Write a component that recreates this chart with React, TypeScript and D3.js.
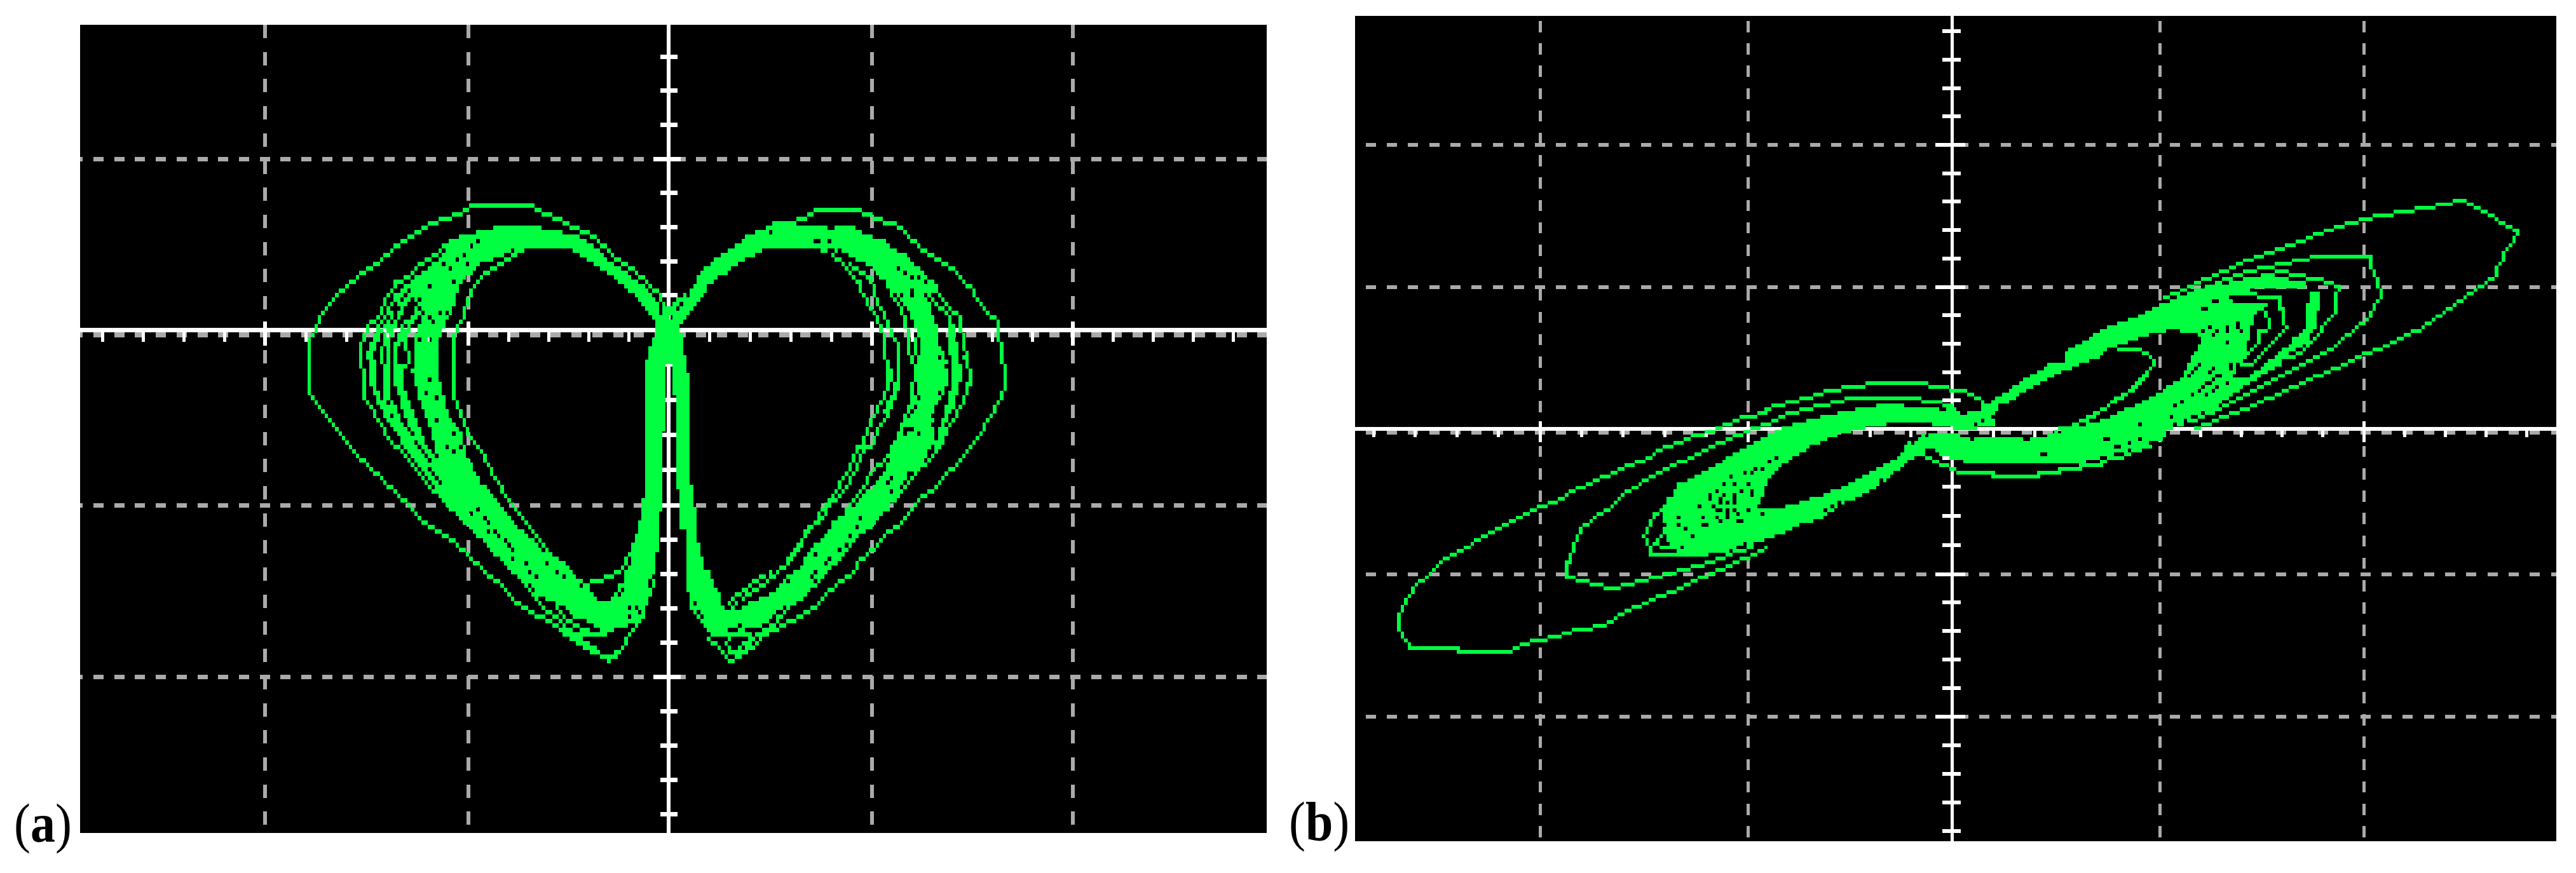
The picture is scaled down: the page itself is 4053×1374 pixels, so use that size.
import * as d3 from "d3";
import React from "react";

type P = [number, number];

// ---------- Scope readings, panel (a): left lobe (raw screen counts, region AL)
const aLeftOuter: P[] = [[1545,600],[1520,470],[1450,390],[1400,330],[1310,265],[1240,195],[1160,155],[1100,95],[1040,75],[960,50],[720,50],[660,75],[550,115],[490,160],[430,200],[400,240],[340,290],[290,330],[240,370],[200,430],[165,460],[120,530],[90,575],[70,625],[45,670],[45,930],[120,1030],[175,1110],[235,1195],[290,1265],[345,1335],[400,1395],[460,1455],[510,1510],[560,1565],[620,1605],[710,1690],[780,1760],[850,1830],[900,1890],[970,1970],[1050,2010],[1130,2070],[1210,2100],[1300,2185],[1340,2140],[1380,2070],[1445,1970],[1480,1810]];
const aLeftTip: P[] = [[1100,2045],[1160,2095],[1240,2140],[1300,2170],[1330,2160]];
const aLeftInner: P[] = [[960,235],[900,265],[830,305],[800,345],[760,370],[735,430],[710,490],[695,540],[680,590],[660,620],[645,680],[645,950],[660,1000],[690,1060],[710,1110],[750,1170],[790,1260],[820,1330],[870,1410],[910,1480],[945,1530],[990,1600],[1040,1670],[1090,1720],[1140,1770],[1190,1830],[1340,1775],[1400,1670],[1440,1500]];
const aLeft1: P[] = [[680,200],[630,215],[590,250],[555,285],[510,325],[480,350],[430,390],[405,410],[385,440],[362,480],[350,520],[325,565],[300,590],[290,620],[275,650],[262,700],[262,790],[278,830],[278,950],[300,1000],[330,1050],[350,1085],[380,1130],[430,1210],[490,1285],[540,1350],[600,1430],[660,1490],[720,1560],[790,1640],[860,1720],[940,1800],[970,1860],[1030,1940],[1080,1990],[1125,2050],[1180,2070],[1240,2075]];
const aLeft2: P[] = [[740,200],[680,225],[610,265],[590,300],[545,330],[515,350],[470,400],[430,440],[405,470],[395,510],[360,560],[335,620],[320,660],[300,700],[285,745],[305,790],[305,860],[320,930],[340,1000],[365,1040],[400,1100],[440,1170],[500,1260],[550,1330],[620,1430],[690,1510],[770,1600],[850,1690]];
const aLeft2b: P[] = [[600,280],[560,330],[530,360],[490,400],[450,445],[420,490],[410,530],[375,590],[350,630],[335,660],[315,700],[298,745],[320,800],[320,880],[335,950],[355,1000],[380,1040],[415,1100],[455,1170],[515,1260],[565,1330],[635,1430]];
const aLeft3: P[] = [[730,235],[660,265],[625,310],[580,345],[530,390],[490,430],[445,490],[420,540],[405,590],[380,620],[360,660],[350,740],[355,860],[365,960],[385,1000],[410,1050],[445,1110],[480,1170],[510,1220],[570,1300],[640,1400]];
const aLeft3b: P[] = [[560,350],[510,400],[470,450],[440,510],[420,560],[395,640],[375,690],[370,740],[370,860],[380,950],[400,1000],[425,1050],[460,1110],[495,1170],[525,1220],[585,1300],[655,1400]];
const aLeft4: P[] = [[700,300],[640,340],[600,410],[550,440],[500,500],[480,570],[435,610],[420,660],[400,720],[400,870],[430,960],[440,1030],[475,1100],[510,1160],[540,1210],[600,1300],[670,1390]];
const aLeft4b: P[] = [[630,360],[570,430],[520,490],[495,560],[455,620],[440,640],[410,720],[412,870],[445,960],[455,1030],[490,1100],[525,1160],[555,1210],[615,1300],[680,1390]];
const aLeft5: P[] = [[620,400],[590,440],[530,470],[515,520],[490,560],[465,610],[440,650],[450,700],[465,780],[435,800],[435,910],[460,960],[480,1030],[510,1090],[525,1150],[565,1220],[620,1290],[680,1370]];
const aLeftVee: P[] = [[1060,1900],[1100,1960],[1150,2020],[1240,2075],[1280,2060],[1340,2000],[1370,1960]];
const aLeftCore: P[] = [[1520,590],[1495,490],[1450,425],[1395,385],[1355,340],[1295,300],[1265,260],[1210,215],[1180,190],[1120,170],[1030,150],[950,130],[860,130],[800,150],[730,170],[660,190],[620,250],[590,300],[560,350],[500,390],[490,420],[470,480],[530,520],[510,590],[490,650],[475,700],[485,760],[475,820],[490,900],[500,950],[520,1000],[545,1080],[560,1150],[600,1290],[590,1410],[660,1490],[700,1540],[760,1600],[800,1660],[850,1710],[880,1760],[930,1810],[980,1880],[1060,1910],[1120,1940],[1150,1990],[1210,2005],[1265,2045],[1320,2045],[1355,2025],[1410,2020],[1440,1990],[1455,1920],[1465,1810],[1480,1800],[1495,1700],[1510,1555],[1525,1250],[1525,1110],[1540,1020],[1540,786],[1500,640],[1480,670],[1465,710],[1455,770],[1455,1400],[1440,1420],[1425,1540],[1410,1600],[1400,1670],[1385,1740],[1365,1760],[1365,1810],[1340,1830],[1320,1890],[1280,1910],[1250,1890],[1210,1830],[1190,1820],[1150,1780],[1120,1730],[1060,1700],[1020,1670],[980,1620],[920,1560],[890,1520],[860,1470],[830,1430],[800,1385],[760,1345],[730,1280],[700,1210],[690,1160],[680,1110],[640,1060],[615,990],[600,920],[585,850],[585,680],[600,620],[630,570],[650,510],[660,470],[675,425],[690,390],[745,345],[760,315],[820,290],[890,260],[960,235],[1120,235],[1180,275],[1240,320],[1295,360],[1340,400],[1380,440],[1425,490],[1470,550],[1496,590]];
const aCenter: P[] = [[1505,560],[1590,560],[1597,620],[1610,745],[1570,786],[1540,786],[1455,786],[1475,700],[1496,620]];
const aLeftHoles: P[] = [[745,220],[715,240],[895,243],[858,265],[690,265],[660,285],[710,305],[610,325],[640,345],[535,325],[505,350],[690,390],[650,410],[555,430],[510,475],[410,520],[465,520],[510,520],[565,600],[595,540],[625,540],[550,560],[550,860],[540,935],[580,945],[580,1050],[655,1115],[505,670],[545,670],[650,1120],[620,1180],[680,1180],[650,1200],[725,1490],[755,1475],[780,1520],[795,1540],[795,1585],[825,1580],[840,1605],[870,1625],[885,1645],[895,1670],[895,1715],[955,1735],[1040,1735],[970,1775],[1085,1775],[1000,1800],[1115,1800],[1185,1840],[1260,1900],[970,1840],[985,1860],[1390,1945],[1415,1945],[1430,1970],[1380,1990],[1360,1855],[1345,1880],[1220,1860],[1240,1880],[1265,1905]];

// ---------- Panel (a): right lobe (region AR)
const aRightOuter: P[] = [[470,130],[530,115],[590,95],[650,72],[820,72],[900,95],[960,115],[1000,150],[1035,180],[1060,205],[1080,225],[1105,245],[1135,265],[1165,285],[1190,320],[1230,350],[1265,390],[1300,430],[1330,480],[1370,540],[1405,590],[1410,660],[1420,740],[1432,840],[1445,900],[1430,930],[1415,960],[1400,990],[1375,1030],[1355,1070],[1345,1095],[1320,1130],[1300,1170],[1270,1220],[1240,1265],[1200,1310],[1160,1350],[1130,1400],[1095,1415],[1065,1460],[1030,1500],[1000,1540],[975,1565],[940,1600],[900,1640],[860,1690],[820,1735],[800,1760],[740,1820],[690,1880],[650,1930],[600,1970],[545,2010],[480,2050],[430,2070],[400,2100],[350,2150],[320,2180],[285,2185],[260,2160],[230,2115],[200,2080]];
const aRightInner1: P[] = [[720,275],[750,300],[770,330],[790,350],[810,370],[830,400],[840,440],[850,470],[865,500],[880,530],[900,560],[910,600],[940,660],[942,910],[925,960],[905,1000],[895,1040],[880,1060],[860,1100],[850,1150],[825,1190],[810,1230],[790,1280],[765,1330],[730,1390],[710,1440],[680,1480],[650,1530],[610,1580],[585,1630],[550,1690],[510,1750],[470,1760],[420,1800],[370,1840],[310,1880],[280,1910],[255,1950]];
const aRightInner2: P[] = [[790,310],[870,380],[895,460],[915,520],[940,570],[960,650],[985,700],[985,900],[965,970],[945,1010],[930,1050],[910,1090],[885,1130],[870,1190],[850,1190],[830,1240],[800,1300],[770,1360],[745,1410],[700,1460],[670,1520],[635,1560],[600,1610],[575,1660],[530,1730],[490,1770],[450,1810],[390,1860],[340,1900],[300,1930]];
const aRightInner2b: P[] = [[965,830],[972,930],[955,975],[940,1020]];
const aRightInner3: P[] = [[910,360],[945,410],[965,470],[990,510],[1015,560],[1025,600],[1040,660],[1042,740],[1060,830],[1055,900],[1045,960],[1035,990],[1015,1040],[1000,1080],[985,1130],[960,1180],[945,1220],[880,1300],[850,1360],[815,1410],[790,1460],[760,1510],[720,1540]];
const aRightInner4: P[] = [[1070,680],[1072,830],[1078,880],[1060,960],[1040,1000],[1025,1060],[1000,1110],[980,1180]];
const aRightOuter2: P[] = [[1100,370],[1130,410],[1150,450],[1175,480],[1215,520],[1245,570],[1258,610],[1270,680],[1285,780],[1295,850],[1285,910],[1270,950],[1250,990],[1235,1020],[1220,1060],[1200,1100],[1180,1150],[1150,1200],[1120,1240],[1090,1270],[1050,1320],[1020,1370],[985,1410],[960,1440],[910,1500],[880,1550],[830,1580],[790,1640],[745,1700],[715,1730],[680,1790],[600,1880],[540,1920],[520,1970],[490,1990],[470,2030],[430,2050],[390,2090],[360,2120],[330,2160]];
const aRightOuter3: P[] = [[1272,760],[1300,830],[1300,870],[1285,920]];
const aRightMid: P[] = [[1060,420],[1110,470],[1150,510],[1190,540],[1215,600],[1225,680],[1225,740],[1250,830],[1240,900],[1215,970],[1190,1020],[1170,1100],[1150,1190]];
const aRightBand: P[] = [[1195,590],[1225,600],[1240,700],[1250,830],[1250,900],[1235,950],[1220,1000],[1195,1060],[1180,1130],[1165,1190],[1150,1190],[1165,1090],[1185,1010],[1205,960],[1210,900],[1210,760],[1195,680]];
const aRightTip: P[] = [[315,2025],[350,2050],[380,2080],[345,2115],[320,2160],[285,2150],[270,2110],[290,2070],[370,2070]];
const aRightCore: P[] = [[0,560],[55,490],[112,450],[155,400],[155,360],[200,320],[240,280],[300,240],[330,210],[355,190],[385,170],[430,150],[470,130],[775,130],[820,150],[850,170],[890,190],[935,210],[960,240],[1005,260],[1035,280],[1050,300],[1060,320],[1090,340],[1105,400],[1150,430],[1130,470],[1130,530],[1150,600],[1165,680],[1195,780],[1195,900],[1180,930],[1150,1000],[1150,1190],[1165,1110],[1130,1180],[1105,1240],[1080,1280],[1040,1300],[1000,1380],[975,1430],[950,1480],[905,1520],[890,1550],[845,1580],[820,1620],[780,1660],[745,1710],[700,1750],[680,1790],[645,1810],[625,1840],[600,1880],[575,1900],[530,1920],[500,1950],[460,1980],[440,2010],[420,2030],[345,2025],[310,2025],[280,2060],[270,2080],[215,2085],[200,2060],[185,2030],[155,2000],[140,1960],[125,1950],[125,1880],[112,1870],[112,1750],[100,1740],[100,1580],[82,1570],[82,1400],[70,1390],[70,1050],[55,940],[55,786],[98,745],[112,830],[125,940],[125,1360],[140,1370],[140,1450],[155,1510],[155,1630],[170,1640],[170,1700],[185,1710],[185,1750],[200,1760],[212,1800],[228,1840],[243,1855],[255,1910],[270,1945],[320,1950],[400,1900],[470,1860],[510,1810],[540,1780],[580,1750],[600,1710],[640,1650],[680,1600],[720,1540],[750,1510],[800,1460],[850,1400],[890,1360],[920,1320],[950,1250],[950,1200],[1000,1140],[1040,1110],[1030,1050],[1065,1000],[1080,950],[1065,870],[1090,800],[1090,680],[1050,590],[1035,540],[1010,490],[980,450],[945,400],[905,350],[840,310],[800,290],[760,260],[720,250],[675,255],[620,235],[470,235],[415,255],[385,275],[345,295],[315,320],[285,340],[270,360],[240,380],[225,400],[200,420],[185,450],[155,490],[140,510],[125,530],[112,550],[100,575],[82,595]];
const aRightHoles: P[] = [[465,178],[710,157],[725,157],[640,200],[655,200],[703,220],[745,245],[985,328],[1015,350],[1045,370],[1085,370],[1055,435],[1000,455],[1045,455],[1100,455],[1015,520],[1130,520],[1115,480],[1170,700],[1170,750],[1190,795],[1170,925],[1185,960],[1145,985],[1130,1030],[1130,1070],[1045,1095],[1085,1115],[135,410],[118,455],[90,498],[75,520],[45,560],[830,1520],[825,1565],[795,1605],[780,1645],[740,1670],[650,1690],[710,1710],[695,1735],[650,1775],[635,1795],[535,1775],[510,1800],[535,1815],[480,1775],[450,1795],[450,1840],[420,1860],[480,1860],[390,1880],[450,1880],[365,1905],[335,1925],[265,1945],[260,1925],[148,1925],[160,1965],[175,1990],[325,2030],[290,2050],[370,2050],[1040,1310],[970,1325],[955,1350],[1015,1350],[965,1390]];

// ---------- Panel (b): lower-left lobe (region BL)
const bLeftOuter: P[] = [[1568,232],[1480,262],[1430,280],[1400,297],[1330,332],[1280,350],[1200,385],[1150,403],[1100,437],[1040,472],[990,490],[940,525],[890,545],[840,578],[790,595],[740,630],[680,668],[630,686],[570,720],[510,755],[450,790],[400,825],[350,860],[310,895],[270,915],[230,950],[180,1000],[130,1055],[100,1100],[70,1155],[55,1195],[55,1255],[85,1310],[100,1355],[295,1355],[300,1372],[495,1372],[560,1337],[620,1320],[700,1300],[790,1270],[900,1240],[960,1200],[1030,1160],[1090,1125],[1180,1090],[1240,1050],[1310,1020],[1380,985],[1430,950],[1480,930],[1568,880]];
const bLeftSecond: P[] = [[1568,300],[1510,315],[1450,350],[1380,385],[1310,420],[1265,455],[1210,475],[1150,510],[1090,545],[1040,578],[990,615],[960,650],[920,690],[880,720],[840,755],[800,790],[770,850],[765,940],[750,945],[750,1020],[810,1037],[870,1055],[930,1072],[990,1055],[1050,1037],[1100,1020],[1170,1000],[1220,985],[1280,968],[1330,950],[1370,932],[1410,915],[1450,895],[1500,880]];
const bLeftThird: P[] = [[1430,455],[1360,490],[1310,525],[1270,560],[1210,580],[1185,620],[1160,650],[1145,690],[1110,720],[1085,755],[1068,790],[1055,825],[1070,860],[1085,900],[1090,915],[1280,915],[1370,895],[1440,880]];
const bLeftFourth: P[] = [[1220,620],[1160,680],[1145,730],[1140,780],[1128,830],[1110,855],[1150,880],[1210,880]];
const bLeftCore: P[] = [[1575,345],[1540,365],[1480,400],[1425,435],[1370,475],[1325,510],[1295,525],[1265,545],[1210,580],[1190,630],[1150,680],[1150,850],[1180,880],[1210,895],[1280,905],[1370,890],[1440,870],[1510,860],[1575,830],[1575,680],[1530,690],[1575,555]];
const bLeftHoles: P[] = [[1210,730],[1300,730],[1300,770],[1315,770],[1140,770],[1200,770],[1290,680],[1340,630],[1360,610],[1390,580],[1415,545],[1475,525],[1500,525],[1520,510],[1545,510],[1440,580],[1490,580],[1385,630],[1440,630],[1465,615],[1330,650],[1345,685],[1372,650],[1372,670],[1372,690],[1400,670],[1400,690],[1400,710],[1400,730],[1430,650],[1430,670],[1430,690],[1360,705],[1360,725],[1445,710],[1490,690],[1550,720],[1380,755],[1445,755],[1460,755],[1230,790],[1265,828],[1475,860],[1165,860],[1220,878],[1450,878],[1505,610],[1505,635]];

// ---------- Panel (b): centre crossing (region BC)
const bcOuterTop: P[] = [[0,228],[45,210],[90,190],[150,172],[205,155],[260,138],[350,120],[450,105],[625,105],[710,120],[800,138],[840,155],[870,173],[885,200]];
const bcSecondTop: P[] = [[0,295],[20,280],[55,262],[100,245],[150,228],[215,210],[300,190],[340,173],[580,173],[680,190],[760,210]];
const bcLowerOrbit: P[] = [[655,450],[695,470],[735,490],[770,510],[790,525],[925,525],[930,545],[1115,545],[1120,525],[1200,525],[1205,510],[1290,510],[1295,490],[1375,490],[1380,470],[1410,455],[1450,450],[1490,435],[1510,420],[1575,402]];
const bcInnerRight: P[] = [[1575,30],[1555,50],[1540,80],[1525,105],[1490,135],[1470,155],[1445,172],[1400,210],[1355,245],[1290,280],[1255,300]];
const bcUpperLeftBand: P[] = [[0,345],[60,308],[118,290],[175,272],[233,255],[305,238],[375,220],[465,200],[565,200],[565,218],[770,218],[800,238],[925,238],[925,288],[870,305],[870,320],[810,325],[755,305],[680,305],[680,288],[495,288],[495,305],[408,305],[408,325],[350,325],[345,340],[290,345],[250,360],[220,378],[190,395],[160,410],[145,430],[120,445],[90,465],[60,485],[45,500],[30,515],[15,540],[0,555]];
const bcLowerLeftBand: P[] = [[0,680],[15,695],[75,680],[145,660],[190,640],[235,625],[280,605],[335,570],[390,540],[420,520],[480,485],[535,450],[550,430],[580,380],[610,360],[650,410],[640,445],[610,450],[580,465],[550,500],[525,520],[505,550],[465,570],[465,585],[435,605],[410,620],[375,640],[320,660],[280,695],[248,715],[217,745],[130,770],[60,810],[0,835]];
const bcLowerRightBand: P[] = [[610,370],[640,340],[770,340],[855,360],[1040,360],[1090,360],[1160,345],[1190,310],[1250,305],[1320,290],[1390,270],[1420,255],[1480,220],[1540,185],[1575,170],[1575,395],[1510,410],[1450,425],[1390,445],[1335,460],[1260,483],[855,483],[785,465],[740,445],[695,430],[650,410]];
const bcRisingBand: P[] = [[885,205],[930,183],[945,165],[975,148],[1000,130],[1015,113],[1045,97],[1060,80],[1090,62],[1118,43],[1135,25],[1160,7],[1190,0],[1320,0],[1290,7],[1250,25],[1220,43],[1190,60],[1160,80],[1135,95],[1105,113],[1045,148],[1015,180],[955,205],[945,220],[930,300],[870,300]];
const bcHoles: P[] = [[800,245],[815,245],[715,228],[730,228],[890,278],[935,262],[860,296],[1530,296],[1285,296],[1300,296],[1310,296],[1200,332],[1145,350],[1055,368],[1075,368],[1135,438],[1150,438],[1398,368],[1485,385],[1440,403],[1530,368],[850,368],[650,350],[620,368],[605,385],[665,425],[680,425],[15,473],[35,455],[270,686],[240,704],[298,668],[470,560]];

// ---------- Panel (b): upper-right lobe (region BU)
const buOuter: P[] = [[340,505],[370,490],[395,470],[440,440],[480,420],[510,400],[540,385],[590,350],[625,330],[660,315],[695,295],[730,280],[770,260],[800,243],[830,225],[865,207],[900,190],[940,172],[975,155],[1015,137],[1075,120],[1150,102],[1220,84],[1295,66],[1355,48],[1390,65],[1415,84],[1440,100],[1460,120],[1475,137],[1500,155],[1525,172],[1542,190],[1530,215],[1520,250],[1505,290],[1495,325],[1480,360],[1470,395],[1455,420],[1435,437],[1405,475],[1385,490],[1365,507],[1330,543],[1295,578],[1260,615],[1225,648],[1200,665],[1170,685],[1150,702],[1120,720],[1090,738],[1065,755],[1035,773],[1000,790],[980,806],[950,825],[920,843],[895,860],[865,878],[835,897],[810,915],[780,930],[750,948],[725,966],[695,983],[665,1000],[640,1020],[610,1037],[575,1055],[540,1072],[510,1090],[480,1107],[440,1125]];
const buSecond: P[] = [[520,440],[550,420],[580,400],[620,382],[670,365],[740,350],[805,332],[870,315],[1045,315],[1050,340],[1060,405],[1070,420],[1070,460],[1080,490],[1070,525],[1060,545],[1040,575],[1035,605],[1010,630],[995,650],[980,665],[960,685],[950,700],[940,720],[925,740],[905,755],[880,775],[860,790],[835,808],[810,825],[785,842],[760,860],[740,878],[715,897],[690,915],[665,930],[640,948],[615,966],[590,985],[570,1000],[545,1020],[520,1037],[490,1055],[460,1072],[430,1090]];
const buThird: P[] = [[680,400],[730,385],[790,400],[850,420],[910,437],[940,455],[925,490],[925,570],[915,600],[895,630],[880,650],[865,680],[850,705],[835,720],[820,755],[800,775],[765,790],[745,790]];
const buFourth: P[] = [[660,505],[735,505],[735,550],[745,560],[745,620],[755,640],[745,665],[730,685],[705,720],[685,755],[670,775],[650,805],[630,825],[600,830]];
const buFifth: P[] = [[685,570],[685,590],[695,610],[695,650],[670,670],[660,660],[660,720],[640,745],[610,770]];
const buInner: P[] = [[170,755],[255,755],[285,780],[300,830],[280,850],[262,890],[245,920],[215,945],[175,985],[145,1020],[110,1055],[70,1085],[25,1105]];
const buCore: P[] = [[0,770],[15,750],[40,730],[65,712],[100,675],[125,658],[150,640],[190,622],[220,605],[245,590],[280,570],[305,555],[330,535],[355,520],[390,500],[415,485],[450,465],[480,450],[520,445],[575,430],[620,412],[680,395],[750,412],[820,430],[820,465],[620,465],[655,490],[550,498],[580,530],[690,540],[625,610],[640,610],[632,680],[620,740],[632,770],[605,800],[600,830],[575,860],[570,880],[640,900],[580,960],[530,1000],[510,1040],[460,1070],[420,1095],[390,1110],[345,1140],[340,1170],[240,1200],[170,1230],[100,1260],[0,1260],[0,1120],[80,1100],[135,1085],[185,1050],[230,1020],[260,1000],[305,965],[330,945],[365,910],[400,880],[415,840],[425,810],[440,770],[450,740],[465,700],[450,680],[415,670],[365,655],[290,680],[245,700],[210,715],[170,735],[110,790],[50,820],[0,850]];
const buThickLimb: P[] = [[835,470],[870,470],[870,550],[860,570],[860,640],[850,655],[835,690],[815,730],[790,745],[760,775],[745,800],[730,830],[700,850],[665,880],[640,905],[590,925],[555,955],[520,985],[530,950],[560,930],[600,900],[620,880],[645,855],[680,830],[695,800],[720,780],[750,745],[770,715],[785,690],[800,680],[810,660],[825,640],[825,570]];
const buHoles: P[] = [[505,525],[520,525],[465,560],[480,560],[270,578],[238,596],[492,648],[468,665],[517,665],[505,683],[552,650],[552,670],[552,710],[585,635],[585,650],[600,665],[455,825],[565,825],[590,825],[565,843],[590,843],[505,843],[445,843],[490,860],[435,860],[420,878],[515,878],[530,878],[505,895],[550,915],[480,913],[495,913],[465,930],[520,930],[505,948],[455,948],[430,966],[480,966],[395,1002],[370,1020],[465,1055],[360,1072],[405,1090],[430,1072],[445,1072],[370,1107],[250,1107],[140,1178],[250,1178],[215,1195],[175,1213],[150,755],[165,755],[625,1000]];

// ---------- Graticule (division values)
const gridDivs = [-2, -1, 1, 2];
const tickDivs = d3.range(-15, 16).map((k) => k / 5);
const labels = ["a", "b"];

const GREEN = "#00ff40";
const GREY = "#aaaaaa";
const WHITE = "#ffffff";

type Region = { x: d3.ScaleLinear<number, number>; y: d3.ScaleLinear<number, number>; lines: P[][]; polys: P[][]; holes: P[] };

const lin = (d: [number, number], r: [number, number]) => d3.scaleLinear().domain(d).range(r);

const yA = lin([0, 1200], [310, 710]);
const yB = lin([0, 1410], [570, 1040]);

const panelA = {
  left: 126, top: 39, right: 1993, bottom: 1311, cw: 5.42, ch: 7.03,
  divX: d3.scaleLinear().domain([-2, -1, 0, 1, 2]).range([417, 737, 1052, 1372, 1688]),
  divY: d3.scaleLinear().domain([2, 1, 0, -1, -2]).range([-18, 250, 518.5, 795, 1065.5]),
  axisW: 6, axisH: 7, rowH: 8, tickMinor: 15, tickTop: 10, tickBottom: 21,
  minorHalf: [13, 14], majorHalf: [24, 19],
  hDash: [16, 16.7], hPhase: 147, vDash: [21, 21.7], vPhase: 39,
  regions: [
    { x: lin([0, 1568], [470, 1060]), y: yA, lines: [aLeftOuter, aLeftTip, aLeftInner, aLeft1, aLeft2, aLeft2b, aLeft3, aLeft3b, aLeft4, aLeft4b, aLeft5, aLeftVee], polys: [aLeftCore, aCenter], holes: aLeftHoles },
    { x: lin([0, 1568], [1040, 1630]), y: yA, lines: [aRightOuter, aRightInner1, aRightInner2, aRightInner2b, aRightInner3, aRightInner4, aRightOuter2, aRightOuter3, aRightMid, aRightTip], polys: [aRightCore, aRightBand], holes: aRightHoles },
  ] as Region[],
};

const panelB = {
  left: 2132, top: 25, right: 4022, bottom: 1324, cw: 5.5, ch: 5.87,
  divX: d3.scaleLinear().domain([-2, -1, 0, 1, 2]).range([2423, 2750, 3071, 3398, 3719]),
  divY: d3.scaleLinear().domain([2, 1, 0, -1, -2]).range([228, 451.5, 675, 903.5, 1128]),
  axisW: 5, axisH: 6, rowH: 6, tickMinor: 12, tickTop: 9, tickBottom: 18,
  minorHalf: [15, 14], majorHalf: [26, 21],
  hDash: [16, 17.3], hPhase: 2182, vDash: [17.5, 17.7], vPhase: 33,
  regions: [
    { x: lin([0, 1568], [2180, 2780]), y: yB, lines: [bLeftOuter, bLeftSecond, bLeftThird, bLeftFourth], polys: [bLeftCore], holes: bLeftHoles },
    { x: lin([0, 1568], [2780, 3380]), y: yB, lines: [bcOuterTop, bcSecondTop, bcLowerOrbit, bcInnerRight], polys: [bcUpperLeftBand, bcLowerLeftBand, bcLowerRightBand, bcRisingBand], holes: bcHoles },
    { x: lin([0, 1568], [3250, 3970]), y: lin([0, 1260], [300, 720]), lines: [buOuter, buSecond, buThird, buFourth, buFifth, buInner], polys: [buCore, buThickLimb], holes: buHoles },
  ] as Region[],
};

type Panel = typeof panelA;

// Everything is drawn onto the scope's own coarse dot raster.
function traceCells(p: Panel): string {
  const cells = new Set<string>();
  const cx = (v: number) => Math.floor((v - p.left) / p.cw);
  const cy = (v: number) => Math.floor((v - p.top) / p.ch);
  const cols = Math.ceil((p.right - p.left) / p.cw);
  const rows = Math.ceil((p.bottom - p.top) / p.ch);
  const holes: string[] = [];
  for (const r of p.regions) {
    for (const line of r.lines) {
      for (let i = 1; i < line.length; i++) {
        const x0 = cx(r.x(line[i - 1][0])), y0 = cy(r.y(line[i - 1][1]));
        const x1 = cx(r.x(line[i][0])), y1 = cy(r.y(line[i][1]));
        const n = Math.max(Math.abs(x1 - x0), Math.abs(y1 - y0), 1);
        for (let s = 0; s <= n; s++) {
          cells.add(`${Math.round(x0 + ((x1 - x0) * s) / n)},${Math.round(y0 + ((y1 - y0) * s) / n)}`);
        }
      }
    }
    for (const poly of r.polys) {
      const pts = poly.map(([a, b]) => [r.x(a), r.y(b)] as [number, number]);
      const xs = pts.map((q) => q[0]);
      const ys = pts.map((q) => q[1]);
      for (let i = cx(d3.min(xs)!); i <= cx(d3.max(xs)!); i++) {
        for (let j = cy(d3.min(ys)!); j <= cy(d3.max(ys)!); j++) {
          const c: [number, number] = [p.left + (i + 0.5) * p.cw, p.top + (j + 0.5) * p.ch];
          if (d3.polygonContains(pts, c)) cells.add(`${i},${j}`);
        }
      }
    }
    for (const [a, b] of r.holes) holes.push(`${cx(r.x(a))},${cy(r.y(b))}`);
  }
  holes.forEach((h) => cells.delete(h));
  const parts: string[] = [];
  cells.forEach((k) => {
    const [i, j] = k.split(",").map(Number);
    if (i < 0 || j < 0 || i >= cols || j >= rows) return;
    const x0 = Math.round(p.left + i * p.cw), x1 = Math.round(p.left + (i + 1) * p.cw);
    const y0 = Math.round(p.top + j * p.ch), y1 = Math.round(p.top + (j + 1) * p.ch);
    parts.push(`M${x0} ${y0}H${x1}V${y1}H${x0}Z`);
  });
  return parts.join("");
}

function Scope({ p }: { p: Panel }) {
  const ax = Math.round(p.divX(0));
  const ay = Math.round(p.divY(0));
  const dash = (d: number[]) => d.join(" ");
  const hOffset = (d: number[]) => (d[0] + d[1]) - ((p.hPhase - p.left) % (d[0] + d[1]));
  const vOffset = (d: number[]) => (d[0] + d[1]) - ((p.vPhase - p.top) % (d[0] + d[1]));
  const inX = (v: number) => v >= p.left && v <= p.right;
  const inY = (v: number) => v >= p.top && v <= p.bottom;
  return (
    <g shapeRendering="crispEdges">
      <rect x={p.left} y={p.top} width={p.right - p.left} height={p.bottom - p.top} fill="#000" />
      {gridDivs.map((d) => (
        <line key={`v${d}`} x1={p.divX(d)} x2={p.divX(d)} y1={p.top} y2={p.bottom} stroke={GREY} strokeWidth={p.axisW}
          strokeDasharray={dash(p.vDash)} strokeDashoffset={vOffset(p.vDash)} />
      ))}
      {gridDivs.map((d) => (
        <line key={`h${d}`} x1={p.left} x2={p.right} y1={p.divY(d)} y2={p.divY(d)} stroke={GREY} strokeWidth={p.axisH}
          strokeDasharray={dash(p.hDash)} strokeDashoffset={hOffset(p.hDash)} />
      ))}
      <line x1={p.left} x2={p.right} y1={ay + p.axisH / 2 + p.rowH / 2} y2={ay + p.axisH / 2 + p.rowH / 2} stroke={GREY} strokeWidth={p.rowH}
        strokeDasharray={dash(p.hDash)} strokeDashoffset={hOffset(p.hDash)} />
      <rect x={p.left} y={ay - p.axisH / 2} width={p.right - p.left} height={p.axisH} fill={WHITE} />
      <rect x={ax - p.axisW / 2} y={p.top} width={p.axisW} height={p.bottom - p.top} fill={WHITE} />
      {tickDivs.map((d) => {
        const major = Number.isInteger(Math.round(d * 1000) / 1000);
        const x = p.divX(d);
        if (!inX(x) || d === 0) return null;
        return major ? (
          <rect key={`tx${d}`} x={x - p.axisW / 2} y={ay - p.axisH / 2 - p.tickTop} width={p.axisW} height={p.axisH + p.tickTop + p.tickBottom} fill={WHITE} />
        ) : (
          <rect key={`tx${d}`} x={x - 2.5} y={ay + p.axisH / 2} width={5} height={p.tickMinor + p.rowH - 8} fill={WHITE} />
        );
      })}
      {tickDivs.map((d) => {
        const major = Number.isInteger(Math.round(d * 1000) / 1000);
        const y = p.divY(d);
        if (!inY(y) || d === 0) return null;
        const [l, r] = major ? p.majorHalf : p.minorHalf;
        return <rect key={`ty${d}`} x={ax - l} y={y - p.axisH / 2} width={l + r} height={p.axisH} fill={WHITE} />;
      })}
      <path d={traceCells(p)} fill={GREEN} />
    </g>
  );
}

const Label = ({ x, y, t }: { x: number; y: number; t: string }) => (
  <text transform={`translate(${x} ${y}) scale(1 1.12)`} fontFamily="'Liberation Serif', serif" fontSize={78} fill="#000">
    (<tspan fontWeight="bold">{t}</tspan>)
  </text>
);

export default function App() {
  return (
    <svg width={4053} height={1374} viewBox="0 0 4053 1374" style={{ position: "absolute", left: 0, top: 0, display: "block", background: "#fff" }}>
      <Scope p={panelA} />
      <Scope p={panelB as unknown as Panel} />
      <Label x={22} y={1325} t={labels[0]} />
      <Label x={2028} y={1322} t={labels[1]} />
    </svg>
  );
}
